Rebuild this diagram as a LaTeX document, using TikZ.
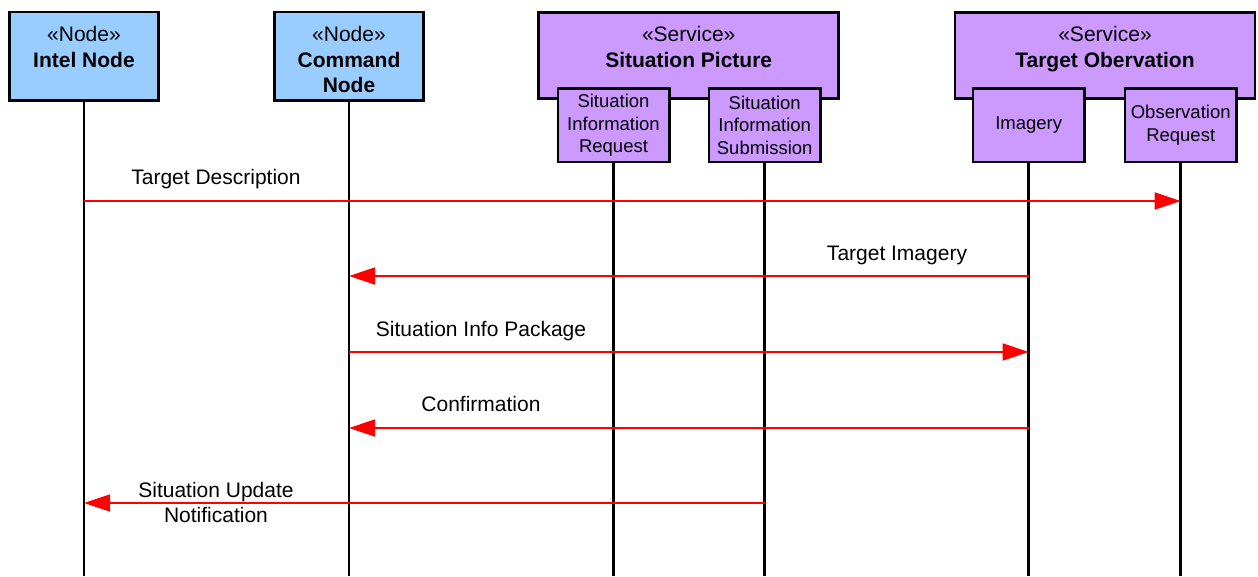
\documentclass[tikz,border=0pt]{standalone}
\usepackage{fontspec}
\setmainfont{Liberation Sans}
\usetikzlibrary{arrows.meta,positioning}
\definecolor{nodeblue}{HTML}{99CCFF}
\definecolor{servpurple}{HTML}{CC99FF}

\begin{document}
\begin{tikzpicture}[
  x=1pt,y=-1pt,
  actor/.style={draw,line width=2.6pt,fill=nodeblue,minimum width=149.4pt,minimum height=88.4pt,inner sep=0pt},
  service/.style={draw,line width=2.6pt,fill=servpurple,minimum width=300pt,minimum height=86.4pt,inner sep=0pt},
  port/.style={draw,line width=2.6pt,fill=servpurple,minimum width=111.4pt,minimum height=73.4pt,inner sep=0pt,align=center,font=\fontsize{18.5}{22.5}\selectfont},
  head/.style={anchor=base,align=center,inner sep=0pt,font=\fontsize{21}{25.5}\selectfont},
  life/.style={line width=2.6pt},
  msg/.style={red,line width=1.6pt,-{Triangle[length=26pt,width=17pt]}},
  lbl/.style={anchor=base,align=center,inner sep=0pt,font=\fontsize{21}{25}\selectfont}
]
  \useasboundingbox (0,0) rectangle (1258,576);
  \coordinate (bot) at (0,576);

  % participants (text nodes sit on the baseline of their last line)
  \node[actor] (intel) at (84,56.2) {};
  \node[actor] (cmd) at (349,56.2) {};
  \node[service] (sitpic) at (688.7,55.5) {};
  \node[service] (tgtobs) at (1105,55.5) {};
  \node[head] (intel-txt) at (84,67) {«Node»\\\textbf{Intel Node}};
  \node[head] (cmd-txt) at (349,92.5) {«Node»\\\textbf{Command}\\\textbf{Node}};
  \node[head] (sitpic-txt) at (688.7,67) {«Service»\\\textbf{Situation Picture}};
  \node[head] (tgtobs-txt) at (1105,67) {«Service»\\\textbf{Target Obervation}};

  % ports
  \node[port] (sireq) at (613.5,125.3) {Situation\\Information\\Request};
  \node[port] (sisub) at (764.7,125.3) {Situation\\Information\\Submission};
  \node[port] (imagery) at (1028.7,125.3) {Imagery};
  \node[port] (obsreq) at (1180.7,125.3) {Observation\\Request};

  % lifelines
  \foreach \p in {intel,cmd,sireq,sisub,imagery,obsreq}
    \draw[life] (\p.south) -- (\p.south |- bot);

  % messages
  \draw[msg] (intel |- 0,201) -- (obsreq |- 0,201);
  \node[lbl] (m1) at (216,184.5) {Target Description};
  \draw[msg] (imagery |- 0,276) -- (cmd |- 0,276);
  \node[lbl] (m2) at (897,260.5) {Target Imagery};
  \draw[msg] (cmd |- 0,352) -- (imagery |- 0,352);
  \node[lbl] (m3) at (481,336.5) {Situation Info Package};
  \draw[msg] (imagery |- 0,428) -- (cmd |- 0,428);
  \node[lbl] (m4) at (481,411.5) {Confirmation};
  \draw[msg] (sisub |- 0,503) -- (intel |- 0,503);
  \node[lbl] (m5) at (216,522.5) {Situation Update\\Notification};
\end{tikzpicture}
\end{document}
